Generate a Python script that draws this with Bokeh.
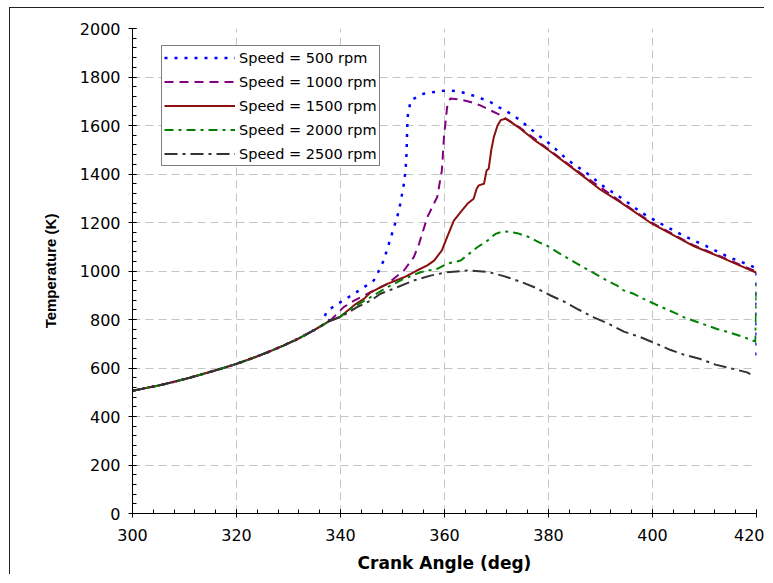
from bokeh.plotting import figure
from bokeh.models import FixedTicker, Legend, LegendItem, Range1d
from bokeh.layouts import column
from bokeh.embed import file_html
from bokeh.resources import INLINE

# ---- data ----
x_ticks = [300, 320, 340, 360, 380, 400, 420]
y_ticks = [0, 200, 400, 600, 800, 1000, 1200, 1400, 1600, 1800, 2000]

base_x = [300, 302, 305, 308, 311, 314, 317, 320, 323, 326, 329, 332, 335, 338]
base_T = [506, 515, 528, 543, 560, 578, 597, 617, 640, 665, 692, 722, 757, 795]

x_500 = base_x + [336.8, 337.4, 339, 341, 342.6, 344.5, 346.4, 347.4, 348.3, 349.3, 350.3,
                  350.9, 351.5, 352.2, 352.5, 352.7, 352.8, 352.9, 353.5, 356, 358, 360.5,
                  362.5, 364.4, 366.3, 368.8, 370.5, 372.7, 374.6, 376.5, 378.1, 380.4,
                  383.6, 387.1, 390.6, 394.5, 398, 402.2, 406.3, 410.5, 414.7, 418.8, 420, 420]
T_500 = base_T + [805, 835, 858, 885, 906, 933, 961, 1002, 1043, 1112, 1181,
                  1222, 1277, 1360, 1415, 1484, 1566, 1635, 1704, 1731, 1738, 1745,
                  1742, 1731, 1718, 1697, 1675, 1649, 1621, 1587, 1559, 1522,
                  1459, 1408, 1349, 1294, 1239, 1188, 1142, 1101, 1057, 1023, 1010, 642]

x_1000 = base_x + [340.6, 342.6, 345.8, 349, 352.2, 354.1, 355.1, 356.7, 358.6, 359.5, 359.9,
                   360.5, 361.1, 363.1, 365, 366.9, 368.8, 370.8, 371.7, 374.6, 380.1, 385.2,
                   393.8, 399.9, 408, 413.1, 420]
T_1000 = base_T + [851, 878, 913, 947, 1002, 1057, 1112, 1222, 1305, 1415, 1553,
                   1676, 1711, 1707, 1697, 1683, 1663, 1642, 1630, 1590, 1500, 1418,
                   1287, 1198, 1105, 1060, 997]

x_1500 = base_x + [340, 341.3, 343, 344.5, 345.8, 349, 352.2, 354.7, 356.7, 358, 359.5, 360.5,
                   361.8, 363.1, 364.4, 365.6, 366.2, 366.6, 367.6, 368.1, 368.5, 369, 369.5,
                   370.2, 370.8, 371.7, 372.5, 374.6, 377, 380.1, 385.2, 390, 393.8, 399.9,
                   404, 408, 413.1, 416.5, 419.8, 420]
T_1500 = base_T + [812, 835, 865, 885, 912, 947, 974, 1002, 1023, 1043, 1085, 1140,
                   1208, 1243, 1277, 1298, 1340, 1353, 1360, 1415, 1422, 1500, 1553,
                   1600, 1622, 1628, 1618, 1587, 1545, 1497, 1415, 1335, 1284, 1195,
                   1148, 1102, 1057, 1025, 995, 993]

x_2000 = base_x + [340, 341.9, 345.8, 349, 352.2, 355.4, 358.6, 360.5, 363.1, 366.3, 368.2,
                   369.8, 371.4, 374, 376.2, 378.1, 379.7, 381.7, 383.6, 386.1, 389, 391.2,
                   393.2, 394.2, 396.4, 398.3, 400.6, 404.4, 406.3, 409.2, 412.4, 414.7,
                   417.6, 419.8, 420]
T_2000 = base_T + [812, 844, 892, 933, 968, 995, 1009, 1030, 1043, 1098, 1124,
                   1153, 1164, 1156, 1140, 1119, 1105, 1078, 1054, 1023, 988, 961,
                   940, 922, 906, 885, 862, 826, 807, 785, 761, 747,
                   727, 709, 945]

x_2500 = base_x + [340, 343.2, 345.8, 347.7, 350.9, 354.1, 357.3, 360.5, 364.4, 368.2, 371.4,
                   374.6, 377.5, 380.4, 383, 385.5, 388.7, 391.6, 394.5, 397.7, 400.3,
                   403.5, 406, 409.2, 412.1, 415, 418.2, 418.8]
T_2500 = base_T + [810, 851, 878, 906, 933, 961, 981, 995, 1002, 997, 979,
                   956, 931, 899, 874, 844, 809, 782, 750, 727, 704,
                   674, 655, 637, 614, 599, 582, 575]

labels = ["Speed = 500 rpm", "Speed = 1000 rpm", "Speed = 1500 rpm",
          "Speed = 2000 rpm", "Speed = 2500 rpm"]

# ---- figure ----
p = figure(width=755, height=567, output_backend="svg", toolbar_location=None,
           x_range=Range1d(300, 420), y_range=Range1d(0, 2000),
           min_border_left=122, min_border_right=9, min_border_top=20,
           min_border_bottom=62, margin=(7, 0, 0, 9))
p.outline_line_color = None
p.background_fill_color = "white"
p.border_fill_color = "white"
# outer chart border: only its left and top edges are inside the picture
p.styles = {"border-left": "1px solid #222222", "border-top": "1px solid #222222"}

xt = FixedTicker(ticks=x_ticks, minor_ticks=list(range(300, 421, 4)))
yt = FixedTicker(ticks=y_ticks, minor_ticks=list(range(0, 2001, 40)))
p.xaxis.ticker = xt
p.yaxis.ticker = yt
p.xgrid.ticker = xt
p.ygrid.ticker = yt
for g in (p.xgrid, p.ygrid):
    g.grid_line_color = "#c4c4c4"
    g.grid_line_dash = "8 5"
    g.grid_line_width = 1

for ax in (p.xaxis, p.yaxis):
    ax.axis_line_color = "black"
    ax.major_tick_line_color = "black"
    ax.minor_tick_line_color = "black"
    ax.major_tick_in = 4
    ax.major_tick_out = 4
    ax.minor_tick_in = 4
    ax.minor_tick_out = 0
    ax.major_label_text_font = "DejaVu Sans"
    ax.major_label_text_font_size = "16px"
    ax.major_label_text_color = "black"

p.xaxis.major_label_standoff = 11
p.yaxis.major_label_standoff = 8
p.xaxis.axis_label = "Crank Angle (deg)"
p.xaxis.axis_label_text_font = "DejaVu Sans"
p.xaxis.axis_label_text_font_style = "bold"
p.xaxis.axis_label_text_font_size = "17px"
p.xaxis.axis_label_standoff = 9
p.yaxis.axis_label = "Temperature (K)"
p.yaxis.axis_label_text_font = "Liberation Sans"
p.yaxis.axis_label_text_font_style = "bold"
p.yaxis.axis_label_text_font_size = "15px"
p.yaxis.axis_label_standoff = 18
p.xaxis.axis_label_text_color = "black"
p.yaxis.axis_label_text_color = "black"

r1 = p.line(x_500, T_500, line_color="#0000FF", line_width=2.5, line_dash="3 7")
r2 = p.line(x_1000, T_1000, line_color="#800080", line_width=2, line_dash="9 6")
r3 = p.line(x_1500, T_1500, line_color="#8B1010", line_width=2)
r4 = p.line(x_2000, T_2000, line_color="#008000", line_width=2, line_dash="9 5 3 5")
r5 = p.line(x_2500, T_2500, line_color="#333333", line_width=2, line_dash="13 5 3 5")

legend = Legend(items=[LegendItem(label=l, renderers=[r]) for l, r in
                       zip(labels, [r1, r2, r3, r4, r5])],
                location=(29, 347))
legend.glyph_width = 71
legend.glyph_height = 19
legend.label_height = 19
legend.spacing = 5
legend.padding = 2
legend.margin = 0
legend.label_standoff = 4
legend.label_text_font = "DejaVu Sans"
legend.label_text_font_size = "14.5px"
legend.label_text_color = "black"
legend.border_line_color = "black"
legend.border_line_width = 1
legend.background_fill_color = "white"
legend.background_fill_alpha = 1
p.add_layout(legend)

root = column(p)
open("out.html", "w").write(file_html(root, INLINE))
